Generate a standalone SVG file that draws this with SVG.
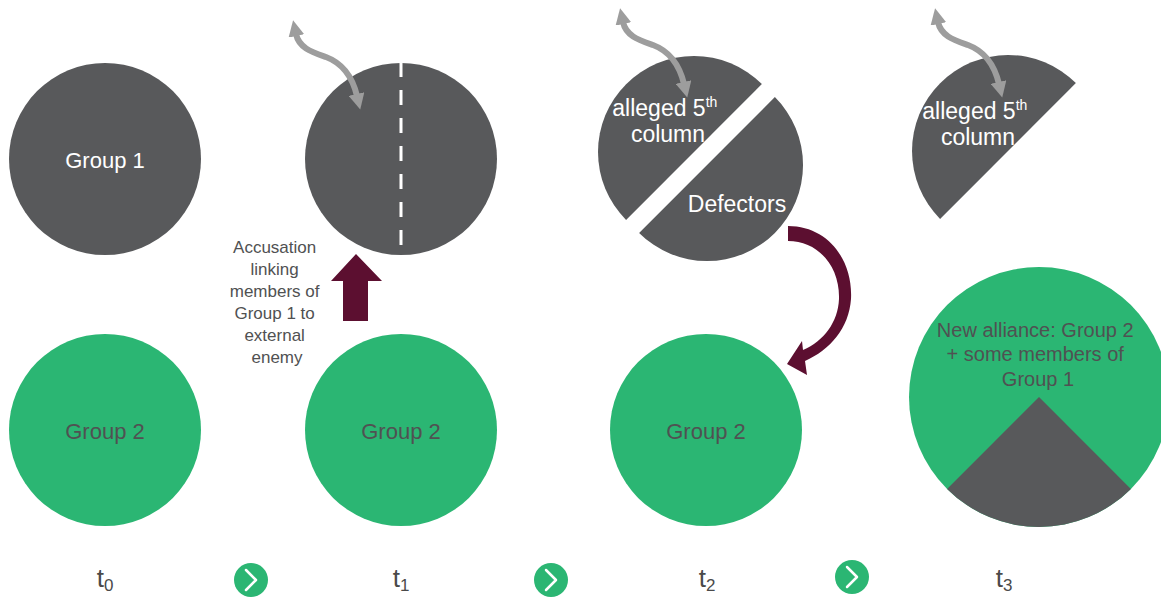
<svg xmlns="http://www.w3.org/2000/svg" width="1161" height="598" viewBox="0 0 1161 598">
  <style>
    .dark { fill: #58595b; }
    .green { fill: #2bb673; }
    .wt { fill: #ffffff; font-family: "Liberation Sans", Arial, sans-serif; text-anchor: middle; }
    .gt { fill: #505152; font-family: "Liberation Sans", Arial, sans-serif; text-anchor: middle; }
    .tl { fill: #4a4a4a; font-family: "Liberation Sans", Arial, sans-serif; font-size: 26px; text-anchor: middle; }
    .wave { fill: none; stroke: #9d9d9d; stroke-width: 6; marker-start: url(#gh); marker-end: url(#gh); }
    .maroon { fill: #5c0f30; }
    .chev { fill: none; stroke: #ffffff; stroke-width: 2.5; stroke-linecap: round; stroke-linejoin: round; }
  </style>
  <defs>
    <marker id="gh" markerUnits="userSpaceOnUse" viewBox="0 0 16 16" markerWidth="16" markerHeight="16" refX="2" refY="8" orient="auto-start-reverse">
      <path d="M0,0 L16,8 L0,16 z" fill="#9d9d9d"/>
    </marker>
  </defs>
  <rect width="1161" height="598" fill="#ffffff"/>

  <!-- t0 -->
  <g id="t0-group1">
    <circle class="dark" cx="105" cy="159" r="96"/>
    <text class="wt" x="105" y="168" font-size="22">Group 1</text>
  </g>
  <g id="t0-group2">
    <circle class="green" cx="105" cy="430" r="96"/>
    <text class="gt" x="105" y="439" font-size="22">Group 2</text>
  </g>

  <!-- t1 -->
  <g id="t1-group1">
    <circle class="dark" cx="401" cy="159" r="96"/>
    <line x1="401" y1="62" x2="401" y2="256" stroke="#ffffff" stroke-width="3" stroke-dasharray="15 13"/>
  </g>
  <g id="t1-accusation">
    <text class="gt" font-size="17" fill="#595959">
      <tspan x="277" y="253">Accusation</tspan>
      <tspan x="277" y="275">linking</tspan>
      <tspan x="277" y="297">members of</tspan>
      <tspan x="277" y="319">Group 1 to</tspan>
      <tspan x="277" y="341">external</tspan>
      <tspan x="277" y="363">enemy</tspan>
    </text>
  </g>
  <g id="t1-group2">
    <circle class="green" cx="401" cy="430" r="96"/>
    <text class="gt" x="401" y="439" font-size="22">Group 2</text>
  </g>

  <!-- t2 -->
  <g id="t2-fifth-column">
    <path class="dark" d="M626.1,219.9 A96,96 0 0 1 761.9,84.1 Z"/>
    <text class="wt" font-size="23">
      <tspan x="668" y="116">alleged 5<tspan font-size="14" dy="-9">th</tspan></tspan>
      <tspan x="668" y="142">column</tspan>
    </text>
  </g>
  <g id="t2-defectors">
    <path class="dark" d="M774.9,97.1 A96,96 0 0 1 639.1,232.9 Z"/>
    <text class="wt" x="737" y="212" font-size="23">Defectors</text>
  </g>
  <g id="t2-group2">
    <circle class="green" cx="706" cy="430" r="96"/>
    <text class="gt" x="706" y="439" font-size="22">Group 2</text>
  </g>

  <!-- t3 -->
  <g id="t3-fifth-column">
    <path class="dark" d="M940.1,218.9 A96,96 0 0 1 1075.9,83.1 Z"/>
    <text class="wt" font-size="23">
      <tspan x="978" y="119">alleged 5<tspan font-size="14" dy="-9">th</tspan></tspan>
      <tspan x="978" y="145">column</tspan>
    </text>
  </g>
  <g id="t3-alliance">
    <circle class="green" cx="1039" cy="397" r="130"/>
    <path class="dark" d="M1039,397 L1130.9,488.9 A130,130 0 0 1 947.1,488.9 Z"/>
    <text class="gt" font-size="20">
      <tspan x="1038" y="337">New alliance: Group 2</tspan>
      <tspan x="1038" y="361">+ some members of</tspan>
      <tspan x="1038" y="386">Group 1</tspan>
    </text>
  </g>

  <!-- time labels -->
  <g id="label-t0"><text class="tl" x="105" y="587">t<tspan font-size="17" dy="4">0</tspan></text></g>
  <g id="label-t1"><text class="tl" x="401" y="587">t<tspan font-size="17" dy="4">1</tspan></text></g>
  <g id="label-t2"><text class="tl" x="707" y="587">t<tspan font-size="17" dy="4">2</tspan></text></g>
  <g id="label-t3"><text class="tl" x="1004" y="587">t<tspan font-size="17" dy="4">3</tspan></text></g>

  <!-- step buttons -->
  <g id="step-1">
    <circle class="green" cx="251" cy="580" r="17"/>
    <polyline class="chev" points="246,570 256,580 246,590"/>
  </g>
  <g id="step-2">
    <circle class="green" cx="551" cy="580" r="17"/>
    <polyline class="chev" points="546,570 556,580 546,590"/>
  </g>
  <g id="step-3">
    <circle class="green" cx="852" cy="577" r="17"/>
    <polyline class="chev" points="847,567 857,577 847,587"/>
  </g>

  <!-- connectors -->
  <g id="connectors">
    <path class="wave" d="M296,34 C299,48 312,52 326,57 C342,63 352,75 357,96"/>
    <path class="wave" transform="translate(327,-12)" d="M296,34 C299,48 312,52 326,57 C342,63 352,75 357,96"/>
    <path class="wave" transform="translate(642,-12)" d="M296,34 C299,48 312,52 326,57 C342,63 352,75 357,96"/>
    <polygon class="maroon" points="356,254 382,281 368,281 368,321 343,321 343,281 331,281"/>
    <path class="maroon" d="M788,226 C828,226 853,260 851,299 C849,328 830,350 805,361 L807,375 L787,364 L802,341 L803,350 C824,341 838,322 839,299 C840,266 818,241 788,241 Z"/>
  </g>
</svg>
